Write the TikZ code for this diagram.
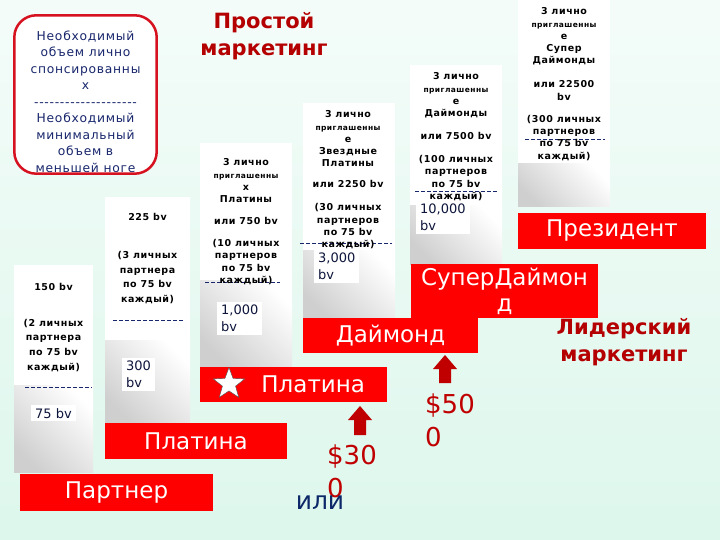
\documentclass[tikz,border=0pt]{standalone}
\usepackage{fontspec}
\setmainfont{DejaVu Sans}
\newfontfamily\ColFont[LetterSpace=6]{DejaVu Sans}
\usetikzlibrary{shapes.geometric}
\definecolor{BarRed}{RGB}{255,0,0}
\definecolor{TitleRed}{RGB}{180,0,0}
\definecolor{ArrowRed}{RGB}{192,0,0}
\definecolor{FrameRed}{RGB}{214,18,32}
\definecolor{InkBlue}{RGB}{24,38,108}
\definecolor{OrBlue}{RGB}{12,40,104}
\definecolor{MintTop}{RGB}{244,252,249}
\definecolor{MintBot}{RGB}{221,247,236}
\tikzstyle{RankBar}=[fill=BarRed,text=white,inner sep=0pt,align=center,
font=\fontsize{23}{26}\selectfont]
\tikzstyle{ColText}=[inner sep=0pt,align=center,anchor=north,
font=\ColFont\bfseries\fontsize{9.5}{12.3}\selectfont]
\tikzstyle{BvBox}=[fill=white,inner xsep=4pt,inner ysep=3pt,align=left,anchor=north west,
text=InkBlue!55!black,font=\fontsize{13}{17}\selectfont]
\tikzstyle{BigTitle}=[text=TitleRed,inner sep=0pt,align=center,anchor=north,
font=\bfseries\fontsize{21}{27.5}\selectfont]
\tikzstyle{PriceText}=[text=ArrowRed,inner sep=0pt,align=left,anchor=north west,
font=\fontsize{26}{33}\selectfont]
\tikzstyle{ColSep}=[InkBlue,dash pattern=on 4pt off 2pt]
\newcommand{\SmallLine}[1]{{\fontsize{7.5}{12.3}\selectfont #1}}
\newcommand{\HyphRow}[1]{\foreach\k in {1,...,#1}{-}}

\begin{document}
\begin{tikzpicture}[x=1pt,y=-1pt]
    \shade[top color=MintTop,bottom color=MintBot](0,0)rectangle(720,540);
    \useasboundingbox(0,0)rectangle(720,540);
    % steps
    \foreach \xa/\xb/\ya/\yb/\yc in {14/93/265/385/472,105/190/197/340/423,
      200/292/143/280/367,303/395/103/250/318,410/502/65/205/264,518/610/0/163/207}{
        \shade[top color=white,bottom color=black!19,shading angle=-45](\xa,\yb)rectangle(\xb,\yc);
        \fill[white](\xa,\ya)rectangle(\xb,\yb);
    }
    \foreach \xa/\xb/\ya in {25/92/387,113/184/320,205/280/282,300/392/243,415/497/191,525/605/139}
        \draw[ColSep](\xa,\ya)--(\xb,\ya);
    % left box
    \node[fill=white,minimum width=142,minimum height=158,inner sep=0pt,rounded corners=22](goal)at(85.5,94.5){};
    \node[inner sep=0pt,anchor=north,align=center,text=InkBlue,
      font=\ColFont\fontsize{12.3}{16.5}\selectfont](goaltext)at(85.5,30.5)
      {Необходимый\\объем лично\\спонсированны\\х\\\HyphRow{20}\\Необходимый\\минимальный\\объем в\\меньшей ноге};
    \draw[FrameRed,line width=2.5pt,rounded corners=22](goal.north west)rectangle(goal.south east);
    % titles
    \node[BigTitle](simple)at(264,12){Простой\\маркетинг};
    \node[BigTitle](leader)at(624,318){Лидерский\\маркетинг};
    % step texts
    \node[ColText,font=\ColFont\bfseries\fontsize{9.5}{14.7}\selectfont](reqpartner)at(53.5,283)
      {150 bv\\[21pt](2 личных\\партнера\\по 75 bv\\каждый)};
    \node[ColText,font=\ColFont\bfseries\fontsize{9.5}{14.5}\selectfont](reqplat)at(147.5,213.5)
      {225 bv\\[23.5pt](3 личных\\партнера\\по 75 bv\\каждый)};
    \node[ColText](reqstar)at(246,158.5)
      {3 лично\\\SmallLine{приглашенны}\\х\\Платины\\[9.7pt]или 750 bv\\[9.7pt](10 личных\\партнеров\\по 75 bv\\каждый)};
    \node[ColText](reqdiam)at(348,110.5)
      {3 лично\\\SmallLine{приглашенны}\\е\\Звездные\\Платины\\[8.7pt]или 2250 bv\\[10.7pt](30 личных\\партнеров\\по 75 bv\\каждый)};
    \node[ColText](reqsuper)at(456,72.5)
      {3 лично\\\SmallLine{приглашенны}\\е\\Даймонды\\[10.7pt]или 7500 bv\\[10.7pt](100 личных\\партнеров\\по 75 bv\\каждый)};
    \node[ColText](reqpres)at(564,7.5)
      {3 лично\\\SmallLine{приглашенны}\\е\\Супер\\Даймонды\\[11.7pt]или 22500\\bv\\[9.7pt](300 личных\\партнеров\\по 75 bv\\каждый)};
    % volumes
    \node[BvBox](bvpartner)at(31,405){75 bv};
    \node[BvBox](bvplat)at(122,358){300\\bv};
    \node[BvBox](bvstar)at(217,302){1,000\\bv};
    \node[BvBox](bvdiam)at(314,250){3,000\\bv};
    \node[BvBox](bvsuper)at(416,201){10,000\\bv};
    % ranks
    \node[RankBar,minimum width=193,minimum height=37](partner)at(116.5,492.5){Партнер};
    \node[RankBar,minimum width=182,minimum height=36](platina)at(196,441){Платина};
    \node[RankBar,minimum height=35,text width=143,align=right,inner xsep=22pt](starplat)at(293.5,384.5){Платина};
    \node[star,star points=5,star point ratio=2.4,fill=white,draw=black!70,thin,
      minimum size=33,inner sep=0pt](starmark)at(229,384){};
    \node[RankBar,minimum width=175,minimum height=35](diamond)at(390.5,335.5){Даймонд};
    \node[RankBar,minimum width=187,minimum height=54](superdiam)at(504.5,291){СуперДаймон\\д};
    \node[RankBar,minimum width=188,minimum height=36](president)at(612,231){Президент};
    % bonuses
    \foreach \ax/\ay/\ab in {360/406/435,445/355/383}
        \fill[ArrowRed](\ax,\ay)--(\ax+12,\ay+14)--(\ax+6,\ay+14)--(\ax+6,\ab)
          --(\ax-6,\ab)--(\ax-6,\ay+14)--(\ax-12,\ay+14)--cycle;
    \node[PriceText](price30)at(327,445){\$30\\0};
    \node[PriceText](price50)at(425,394){\$50\\0};
    \node[text=OrBlue,font=\fontsize{25}{30}\selectfont](ortext)at(320,503){или};
\end{tikzpicture}
\end{document}
